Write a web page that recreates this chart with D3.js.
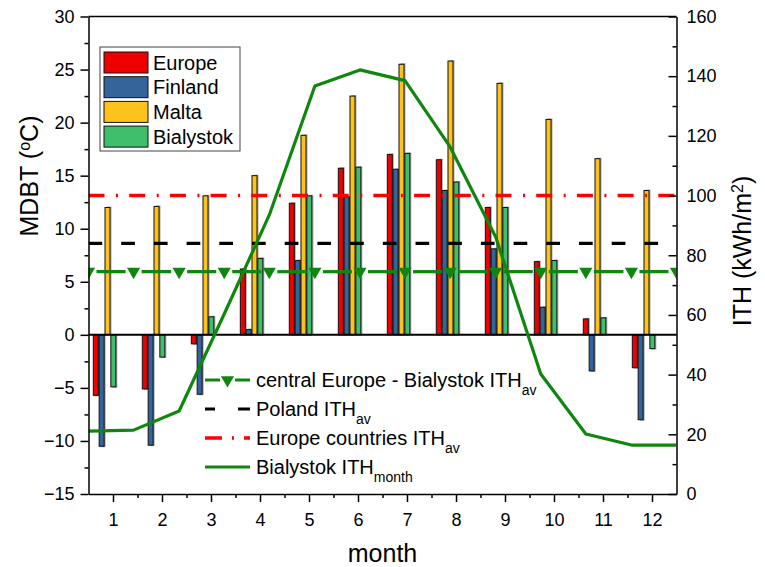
<!DOCTYPE html>
<html lang="en">
<head>
  <meta charset="UTF-8">
  <script src="https://d3js.org/d3.v7.min.js"></script>
  <title>MDBT and ITH by month</title>
  <style>
    body { margin: 0; background: #fff; }
    svg text { font-family: "Liberation Sans", Arial, sans-serif; fill: #000; }
    .axis path, .axis line { stroke: #000; stroke-width: 1.5px; }
    .axis text { font-size: 18px; }
  </style>
</head>
<body>
  <svg width="765" height="567"></svg>

  <script>
    const width = 765, height = 567;

    // monthly MDBT (degC) per location
    const months = [1, 2, 3, 4, 5, 6, 7, 8, 9, 10, 11, 12];
    const seriesNames = ["Europe", "Finland", "Malta", "Bialystok"];
    const europe    = [-5.7, -5.1, -0.85, 6.2, 12.4, 15.7, 17.0, 16.5, 12.0, 6.9, 1.5, -3.1];
    const finland   = [-10.5, -10.4, -5.6, 0.5, 7.0, 13.0, 15.6, 13.6, 8.1, 2.6, -3.4, -8.0];
    const malta     = [12.0, 12.1, 13.1, 15.0, 18.8, 22.5, 25.5, 25.8, 23.7, 20.3, 16.6, 13.6];
    const bialystok = [-4.9, -2.1, 1.7, 7.2, 13.1, 15.8, 17.1, 14.4, 12.0, 7.0, 1.6, -1.3];
    const seriesColors = ["#ee0000", "#34649a", "#fdc31a", "#3fbf6c"];

    // ITH (kWh/m2), right axis
    const ithX = [0.5, 1.42, 2.35, 3.27, 4.19, 5.12, 6.04, 6.96, 7.88, 8.81, 9.73, 10.65, 11.58, 12.5];
    const ithMonth = [21.1, 21.4, 27.8, 60.3, 93.5, 136.7, 142.1, 138.5, 116.3, 86.1, 40.2, 20.1, 16.4, 16.4];
    const ithCentral = 74.5;
    const ithPoland = 84;
    const ithEurope = 100;

    const leftTicks = [-15, -10, -5, 0, 5, 10, 15, 20, 25, 30];
    const rightTicks = [0, 20, 40, 60, 80, 100, 120, 140, 160];

    const plot = { left: 88.5, right: 676.5, top: 16.5, bottom: 494 };
    const green = "#0f870f";

    const svg = d3.select("svg");

    const x = d3.scaleLinear().domain([0.5, 12.5]).range([plot.left, plot.right]);
    const yL = d3.scaleLinear().domain([-15, 30]).range([plot.bottom, plot.top]);
    const yR = d3.scaleLinear().domain([0, 160]).range([plot.bottom, plot.top]);
    const xSub = d3.scaleBand().domain(seriesNames).range([-19.7, 2.85]).paddingInner(0.145);

    svg.append("clipPath").attr("id", "clip")
      .append("rect")
      .attr("x", plot.left).attr("y", plot.top)
      .attr("width", plot.right - plot.left).attr("height", plot.bottom - plot.top);

    const bars = months.flatMap((m, i) => [europe[i], finland[i], malta[i], bialystok[i]]
      .map((v, s) => ({ month: m, name: seriesNames[s], value: v, color: seriesColors[s] })));

    // bar shadows then bars
    const barG = svg.append("g");
    barG.selectAll("rect.shadow")
      .data(bars)
      .enter()
      .append("rect")
      .attr("class", "shadow")
      .attr("x", d => x(d.month) + xSub(d.name) + 1.5)
      .attr("y", d => Math.min(yL(d.value), yL(0)) - (d.value > 0 ? 1 : 0))
      .attr("width", xSub.bandwidth())
      .attr("height", d => Math.abs(yL(d.value) - yL(0)) + 1)
      .attr("fill", "#aaa");

    barG.selectAll("rect.bar")
      .data(bars)
      .enter()
      .append("rect")
      .attr("class", "bar")
      .attr("x", d => x(d.month) + xSub(d.name))
      .attr("y", d => Math.min(yL(d.value), yL(0)))
      .attr("width", xSub.bandwidth())
      .attr("height", d => Math.abs(yL(d.value) - yL(0)))
      .attr("fill", d => d.color)
      .attr("stroke", "#111")
      .attr("stroke-width", 1);

    // zero line
    svg.append("line")
      .attr("x1", plot.left).attr("x2", plot.right)
      .attr("y1", yL(0)).attr("y2", yL(0))
      .attr("stroke", "#000").attr("stroke-width", 2);

    const lines = svg.append("g").attr("clip-path", "url(#clip)");

    // Europe countries ITH_av (dash-dot)
    lines.append("line")
      .attr("x1", plot.left).attr("x2", plot.right)
      .attr("y1", yR(ithEurope)).attr("y2", yR(ithEurope))
      .attr("stroke", "#ff0000").attr("stroke-width", 3.5)
      .attr("stroke-dasharray", "16,11.5,2,11.2");

    // Poland ITH_av (dashed)
    lines.append("line")
      .attr("x1", plot.left).attr("x2", plot.right)
      .attr("y1", yR(ithPoland)).attr("y2", yR(ithPoland))
      .attr("stroke", "#000").attr("stroke-width", 3.2)
      .attr("stroke-dasharray", "13.7,19");

    // central Europe - Bialystok ITH_av, line broken around the markers
    const gap = 8;
    lines.selectAll("line.central")
      .data(d3.pairs(ithX))
      .enter()
      .append("line")
      .attr("class", "central")
      .attr("x1", d => x(d[0]) + gap).attr("x2", d => x(d[1]) - gap)
      .attr("y1", yR(ithCentral)).attr("y2", yR(ithCentral))
      .attr("stroke", green).attr("stroke-width", 3.2);

    const tri = d3.symbol().type(d3.symbolTriangle).size(75);
    lines.selectAll("path.tri")
      .data(ithX)
      .enter()
      .append("path")
      .attr("class", "tri")
      .attr("d", tri)
      .attr("transform", d => `translate(${x(d)},${yR(ithCentral)}) rotate(180)`)
      .attr("fill", green);

    // Bialystok ITH_month
    lines.append("path")
      .datum(ithX.map((v, i) => [v, ithMonth[i]]))
      .attr("d", d3.line().x(d => x(d[0])).y(d => yR(d[1])))
      .attr("fill", "none")
      .attr("stroke", green).attr("stroke-width", 3.2)
      .attr("stroke-linejoin", "round");

    // axes
    svg.append("g").attr("class", "axis")
      .attr("transform", `translate(${plot.left},0)`)
      .call(d3.axisLeft(yL).tickValues(leftTicks).tickSize(8).tickSizeOuter(0).tickPadding(6));
    svg.append("g").attr("class", "axis")
      .attr("transform", `translate(${plot.left},0)`)
      .call(d3.axisLeft(yL).tickValues(leftTicks.slice(1).map(v => v - 2.5)).tickSize(4).tickSizeOuter(0).tickFormat(""))
      .select(".domain").remove();

    svg.append("g").attr("class", "axis")
      .attr("transform", `translate(${plot.right},0)`)
      .call(d3.axisRight(yR).tickValues(rightTicks).tickSize(-8).tickSizeOuter(0).tickPadding(10));
    svg.append("g").attr("class", "axis")
      .attr("transform", `translate(${plot.right},0)`)
      .call(d3.axisRight(yR).tickValues(rightTicks.slice(1).map(v => v - 10)).tickSize(-4).tickSizeOuter(0).tickFormat(""))
      .select(".domain").remove();

    svg.append("g").attr("class", "axis")
      .attr("transform", `translate(0,${plot.bottom})`)
      .call(d3.axisBottom(x).tickValues(months).tickSize(8).tickSizeOuter(0).tickPadding(11));
    svg.append("g").attr("class", "axis")
      .attr("transform", `translate(0,${plot.bottom})`)
      .call(d3.axisBottom(x).tickValues(months.slice(1).map(m => m - 0.5)).tickSize(4).tickSizeOuter(0).tickFormat(""))
      .select(".domain").remove();

    svg.append("line")
      .attr("x1", plot.left).attr("x2", plot.right)
      .attr("y1", plot.top).attr("y2", plot.top)
      .attr("stroke", "#000").attr("stroke-width", 1.5);

    // axis titles
    svg.append("text")
      .attr("x", (plot.left + plot.right) / 2).attr("y", 562)
      .attr("text-anchor", "middle").style("font-size", "25px")
      .text("month");

    const tL = svg.append("text")
      .attr("transform", "translate(38,176) rotate(-90)")
      .attr("text-anchor", "middle").style("font-size", "25px");
    tL.append("tspan").text("MDBT (");
    tL.append("tspan").attr("baseline-shift", "super").style("font-size", "16px").text("o");
    tL.append("tspan").text("C)");

    const tR = svg.append("text")
      .attr("transform", "translate(751,251) rotate(-90)")
      .attr("text-anchor", "middle").style("font-size", "25px");
    tR.append("tspan").text("ITH (kWh/m");
    tR.append("tspan").attr("baseline-shift", "super").style("font-size", "16px").text("2");
    tR.append("tspan").text(")");

    // bar legend
    const leg = svg.append("g");
    leg.append("rect")
      .attr("x", 100).attr("y", 47).attr("width", 140).attr("height", 104)
      .attr("fill", "#fff").attr("stroke", "#444").attr("stroke-width", 1);
    const legRow = leg.selectAll("g")
      .data(seriesNames)
      .enter()
      .append("g")
      .attr("transform", (d, i) => `translate(104,${52 + i * 24.7})`);
    legRow.append("rect")
      .attr("width", 44).attr("height", 21)
      .attr("fill", (d, i) => seriesColors[i])
      .attr("stroke", "#111").attr("stroke-width", 1);
    legRow.append("text")
      .attr("x", 49).attr("y", 17.5)
      .style("font-size", "20px")
      .text(d => d);

    // line legend
    const lineLeg = [
      { label: "central Europe - Bialystok ITH", sub: "av", color: green, dash: "15,15,15", width: 3.2, marker: true },
      { label: "Poland ITH", sub: "av", color: "#000", dash: "10,23,12", width: 3.2 },
      { label: "Europe countries ITH", sub: "av", color: "#ff0000", dash: "17,10,2,10,6", width: 3.5 },
      { label: "Bialystok ITH", sub: "month", color: green, dash: null, width: 3.2 }
    ];
    const ll = svg.append("g").selectAll("g")
      .data(lineLeg)
      .enter()
      .append("g")
      .attr("transform", (d, i) => `translate(205,${380 + i * 29})`);
    ll.append("line")
      .attr("x1", 0).attr("x2", 45)
      .attr("stroke", d => d.color).attr("stroke-width", d => d.width)
      .attr("stroke-dasharray", d => d.dash);
    ll.filter(d => d.marker).append("path")
      .attr("d", tri)
      .attr("transform", "translate(22.5,0) rotate(180)")
      .attr("fill", green);
    const llText = ll.append("text")
      .attr("x", 51).attr("y", 7)
      .style("font-size", "20px");
    llText.append("tspan").text(d => d.label);
    llText.append("tspan").attr("baseline-shift", "sub").style("font-size", "14px").text(d => d.sub);
  </script>
</body>
</html>
